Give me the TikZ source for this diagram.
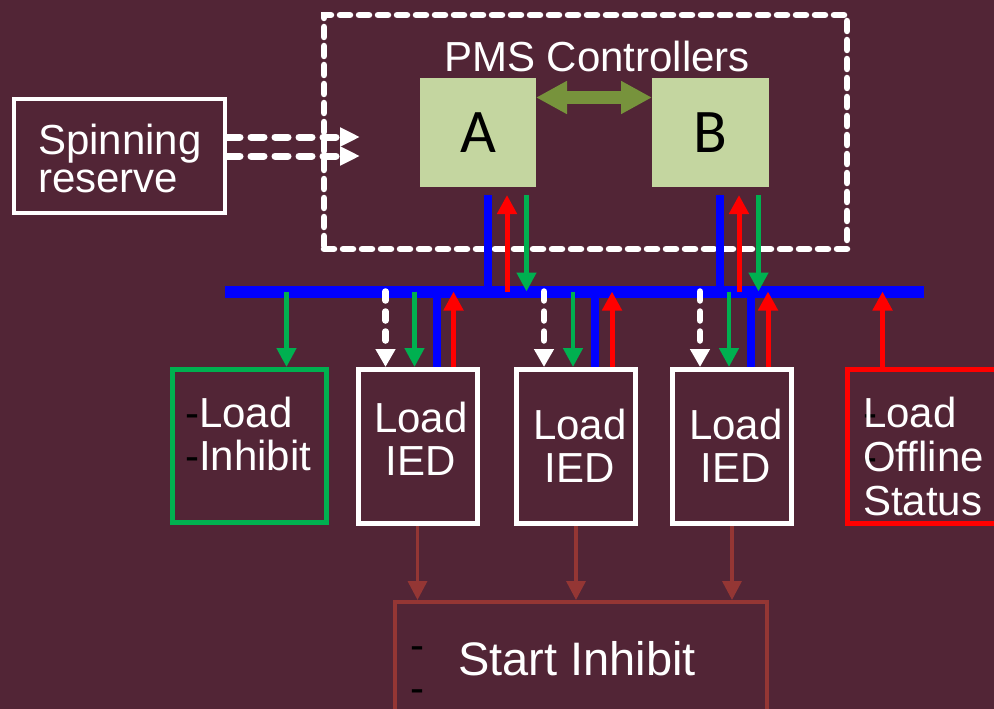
\documentclass[tikz,border=0pt]{standalone}
\usepackage{fontspec}
\setmainfont{Liberation Sans}
\newfontfamily\ctlfont{Carlito}
\usetikzlibrary{arrows.meta,calc}

\definecolor{bgmaroon}{RGB}{82,37,54}
\definecolor{ctlgreen}{RGB}{196,214,160}
\definecolor{peerolive}{RGB}{119,147,60}
\definecolor{sigblue}{RGB}{0,0,255}
\definecolor{sigred}{RGB}{255,0,0}
\definecolor{siggreen}{RGB}{0,176,80}
\definecolor{startbrown}{RGB}{148,54,52}

\begin{document}
\begin{tikzpicture}[x=1pt,y=-1pt,
    box/.style={draw, line width=5pt, minimum width=119pt, minimum height=154pt, inner sep=0pt},
    ctl/.style={fill=ctlgreen, minimum width=116pt, minimum height=109pt, inner sep=0pt, outer sep=0pt,
      text=black, font={\ctlfont\fontsize{62}{62}\selectfont}},
    lbl/.style={text=white, inner sep=0pt, font={\fontsize{42}{43}\selectfont}},
    greenarr/.style={siggreen, line width=4.5pt, -{Triangle[length=19pt,width=19pt]}},
    redarr/.style={sigred, line width=5pt, -{Triangle[length=19pt,width=19pt]}},
    bluelink/.style={sigblue, line width=8pt},
    cmdarr/.style={white, line width=6.5pt, line cap=round, dash pattern=on 9pt off 11pt,
      -{Triangle[length=18pt,width=19pt]}},
    resarr/.style={white, line width=7pt, line cap=round, dash pattern=on 13pt off 11pt,
      -{Triangle[length=20pt,width=18pt]}},
    startarr/.style={startbrown, line width=3.5pt, -{Triangle[length=19pt,width=19pt]}}]

  % Background
  \useasboundingbox (0,0) rectangle (994,709);
  \fill[bgmaroon] (0,0) rectangle (994,709);

  % PMS controllers
  \node[draw=white, line width=6.5pt, line cap=round, dash pattern=on 10pt off 9pt,
    minimum width=523pt, minimum height=234pt] (pms) at (585.5,132) {};
  \node[lbl, anchor=base, font={\fontsize{42}{43}\selectfont}] (pms-t) at (597,71) {PMS Controllers};
  \node[ctl] (ctlA) at (478,132.5) {A};
  \node[ctl, minimum width=117pt] (ctlB) at (710.5,132.5) {B};
  \draw[peerolive, line width=13pt, {Triangle[length=31pt,width=31pt]}-{Triangle[length=31pt,width=31pt]}]
    ([yshift=35pt]ctlA.east) -- ([yshift=35pt]ctlB.west);

  % Spinning reserve
  \node[box, draw=white, line width=4pt, minimum width=211pt, minimum height=114pt] (spin) at (119.5,156) {};
  \node[lbl, align=left, anchor=north west, font={\fontsize{42}{38}\selectfont}] (spin-t) at (38,124) {Spinning\\reserve};
  \coordinate (res1) at (360,137);
  \coordinate (res2) at (360,156);
  \draw[resarr] ([yshift=19pt]spin.east) -- (res1);
  \draw[resarr] (spin.east) -- (res2);

  % Bus
  \coordinate (busL) at (225,291.5);
  \coordinate (busR) at (924,291.5);
  \draw[sigblue, line width=12pt] (busL) -- (busR);

  % Controller links
  \foreach \c in {ctlA,ctlB}{
    \coordinate (\c-b) at ($(\c.south west)+(67.5,8)$);
    \coordinate (\c-r) at ($(\c.south west)+(87,8)$);
    \coordinate (\c-g) at ($(\c.south west)+(106.5,8)$);
    \draw[bluelink] (\c-b) -- (\c-b |- busL);
    \draw[redarr] (\c-r |- busL) -- (\c-r);
    \draw[greenarr] (\c-g) -- (\c-g |- busL);
  }

  % Start inhibit
  \node[box, draw=startbrown, line width=4pt, minimum width=372pt, minimum height=113pt] (start) at (581,658.5) {};
  \node[lbl, anchor=base west, font={\fontsize{47}{50}\selectfont}] (start-t) at (458,675) {Start Inhibit};
  \node[lbl, text=black, anchor=base west] (sdash1) at (410,659) {-};
  \node[lbl, text=black, anchor=base west] (sdash2) at (410,702) {-};

  % Load IEDs
  \foreach \n/\x/\tx/\ty in {ied1/417.5/421/402, ied2/576/580/409, ied3/732/736/409}{
    \node[box, draw=white] (\n) at (\x,446.5) {};
    \node[lbl, align=center, anchor=north] (\n-t) at (\tx,\ty) {Load\\IED};
    \coordinate (\n-d) at ($(\n.north west)+(30,0)$);
    \coordinate (\n-g) at ($(\n.north west)+(59,0)$);
    \coordinate (\n-b) at ($(\n.north west)+(81,0)$);
    \coordinate (\n-r) at ($(\n.north west)+(98,0)$);
    \draw[cmdarr] (\n-d |- busL) -- (\n-d);
    \draw[greenarr] (\n-g |- busL) -- (\n-g);
    \draw[bluelink] (\n-b |- busL) -- (\n-b);
    \draw[redarr] (\n-r) -- (\n-r |- busL);
    \draw[startarr] (\n.south) -- (\n.south |- start.north);
  }

  % Load inhibit
  \node[box, draw=siggreen, minimum width=154pt, minimum height=153pt] (inh) at (249.5,446) {};
  \node[lbl, align=left, anchor=north west] (inh-t) at (199,397)
    {\llap{\color{black}-}Load\\\llap{\color{black}-}Inhibit};
  \coordinate (inh-g) at ($(inh.north west)+(116.5,0)$);
  \draw[greenarr] (inh-g |- busL) -- (inh-g);

  % Load offline status
  \node[box, draw=sigred, minimum width=153pt] (off) at (924,446.5) {};
  \node[lbl, align=left, anchor=north west, font={\fontsize{42}{44}\selectfont}] (off-t) at (863,397)
    {\rlap{\color{black}-}Load\\\rlap{\color{black}-}Offline\\Status};
  \coordinate (off-r) at ($(off.north west)+(37.5,0)$);
  \draw[redarr] (off-r) -- (off-r |- busL);
\end{tikzpicture}
\end{document}
